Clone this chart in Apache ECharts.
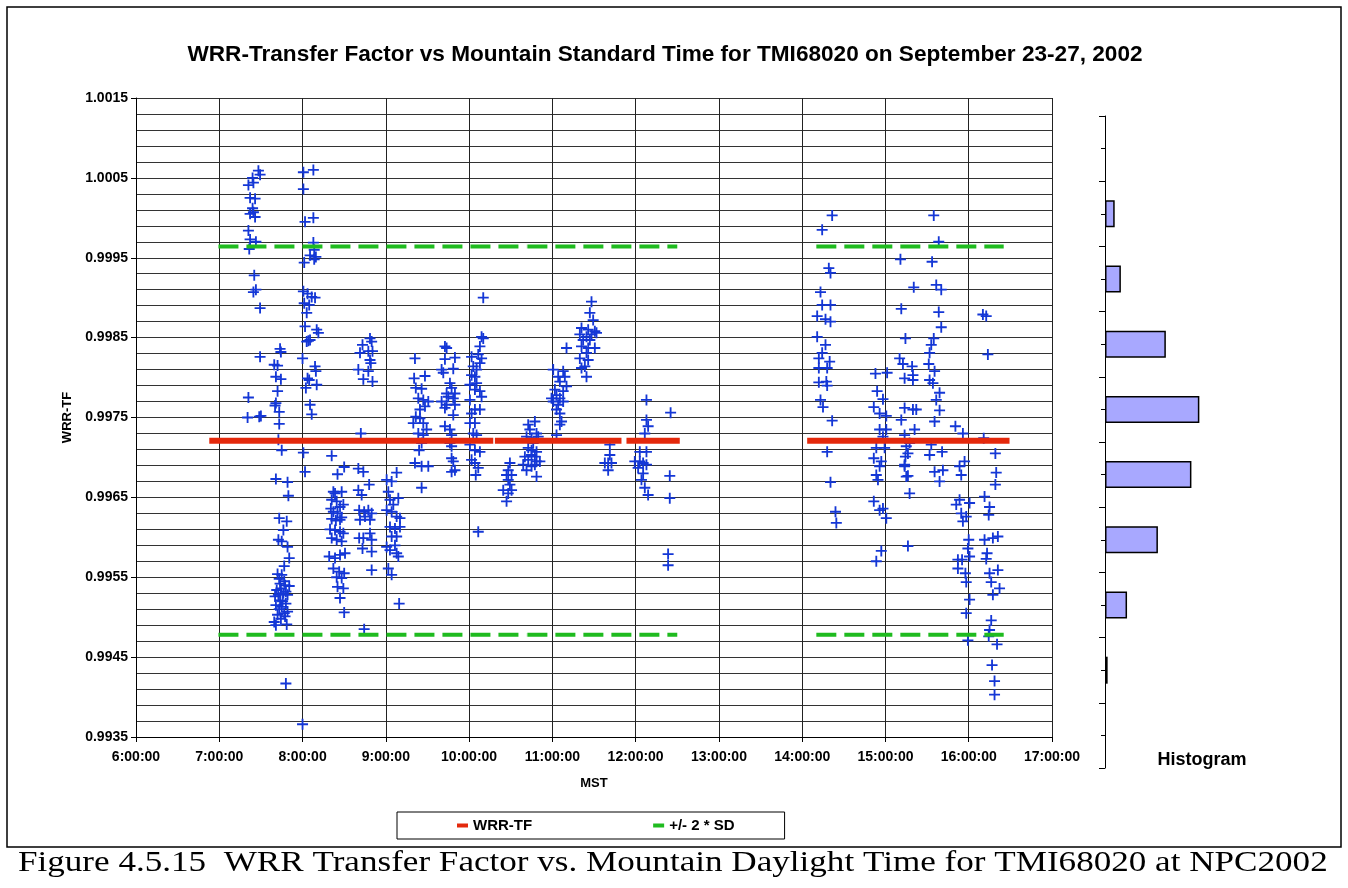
<!DOCTYPE html>
<html>
<head>
<meta charset="utf-8">
<script src="https://cdn.jsdelivr.net/npm/echarts@6/dist/echarts.min.js"></script>
<style>
  html, body { margin: 0; padding: 0; background: #fff; }
  #chart { width: 1348px; height: 888px; }
</style>
</head>
<body>
<div id="chart"></div>
<script>
const morning0720 = [
  [7.47,1.00059],[7.49,1.00054],[7.40,1.00050],[7.41,1.00044],[7.35,1.00041],[7.37,1.00025],[7.43,1.00024],
  [7.40,1.00012],[7.41,1.00007],[7.37,1.00005],[7.43,1.00001],[7.35,0.99984],[7.37,0.99973],[7.44,0.99970],
  [7.36,0.99961],[7.42,0.99928],[7.41,0.99907],[7.44,0.99910],[7.49,0.99887],[7.49,0.99826],[7.35,0.99775],
  [7.34,0.99750],[7.50,0.99752],[7.48,0.99751]
];
const morning0740 = [
  [7.73,0.99836],[7.74,0.99832],[7.66,0.99816],[7.70,0.99815],[7.68,0.99801],[7.74,0.99798],[7.70,0.99783],
  [7.68,0.99768],[7.67,0.99765],[7.72,0.99757],[7.72,0.99742],[7.71,0.99722],[7.75,0.99709],[7.68,0.99673],
  [7.82,0.99669],[7.83,0.99652],[7.72,0.99624],[7.81,0.99620],[7.77,0.99609],[7.71,0.99597],[7.75,0.99595],
  [7.82,0.99588],[7.84,0.99574],[7.78,0.99564],[7.70,0.99554],[7.75,0.99553],[7.73,0.99542],[7.79,0.99540],
  [7.84,0.99539],[7.69,0.99534],[7.77,0.99530],[7.82,0.99528],[7.67,0.99526],[7.73,0.99521],[7.80,0.99517],
  [7.68,0.99515],[7.75,0.99513],[7.82,0.99507],[7.70,0.99503],[7.79,0.99501],[7.66,0.99494],[7.68,0.99490],
  [7.81,0.99491],[7.80,0.99417],[7.72,0.99548],[7.78,0.99545],[7.74,0.99536],[7.80,0.99532],[7.71,0.99528],
  [7.76,0.99520],[7.72,0.99510],[7.78,0.99505],[7.74,0.99498]
];
const morning0800 = [
  [8.01,1.00057],[8.13,1.00060],[8.01,1.00036],[8.03,0.99995],[8.13,1.00000],[8.13,0.99969],[8.14,0.99960],
  [8.09,0.99953],[8.16,0.99951],[8.02,0.99944],[8.14,0.99948],[8.01,0.99908],[8.06,0.99905],[8.11,0.99901],
  [8.15,0.99900],[8.02,0.99893],[8.08,0.99891],[8.05,0.99881],[8.03,0.99864],[8.17,0.99860],[8.19,0.99856],
  [8.07,0.99846],[8.05,0.99845],[8.09,0.99847],[8.00,0.99824],[8.15,0.99814],[8.16,0.99808],[8.06,0.99799],
  [8.08,0.99797],[8.04,0.99787],[8.17,0.99791],[8.09,0.99766],[8.11,0.99754],[8.01,0.99706],[8.03,0.99682],
  [8.00,0.99366]
];
const morning0820 = [
  [8.35,0.99702],[8.42,0.99679],[8.50,0.99688],[8.37,0.99657],[8.39,0.99655],[8.47,0.99657],[8.35,0.99647],
  [8.41,0.99645],[8.49,0.99641],[8.45,0.99638],[8.34,0.99636],[8.37,0.99632],[8.42,0.99630],[8.47,0.99625],
  [8.35,0.99623],[8.40,0.99621],[8.45,0.99622],[8.33,0.99610],[8.39,0.99609],[8.45,0.99607],[8.49,0.99605],
  [8.35,0.99599],[8.41,0.99597],[8.47,0.99595],[8.32,0.99576],[8.39,0.99574],[8.45,0.99578],[8.51,0.99580],
  [8.37,0.99561],[8.44,0.99557],[8.50,0.99555],[8.41,0.99550],[8.47,0.99549],[8.42,0.99538],[8.49,0.99536],
  [8.45,0.99524],[8.50,0.99506],[8.74,0.99485]
];
const morning0840 = [
  [8.72,0.99841],[8.69,0.99831],[8.81,0.99849],[8.83,0.99845],[8.79,0.99833],[8.84,0.99833],[8.81,0.99822],
  [8.82,0.99818],[8.67,0.99810],[8.79,0.99808],[8.73,0.99798],[8.84,0.99795],[8.70,0.99730],
  [8.67,0.99686],[8.73,0.99682],[8.80,0.99666],[8.67,0.99659],[8.71,0.99653],[8.68,0.99634],[8.74,0.99632],
  [8.79,0.99634],[8.83,0.99630],[8.75,0.99626],[8.69,0.99622],[8.81,0.99622],[8.68,0.99599],[8.73,0.99599],
  [8.81,0.99605],[8.83,0.99597],[8.72,0.99586],[8.83,0.99582],[8.83,0.99559]
];
const morning0900 = [
  [9.01,0.99672],[9.07,0.99670],[9.13,0.99681],[9.03,0.99657],[9.05,0.99647],[9.15,0.99649],[9.01,0.99634],
  [9.07,0.99632],[9.09,0.99641],[9.13,0.99626],[9.17,0.99624],[9.05,0.99613],[9.11,0.99611],[9.17,0.99613],
  [9.07,0.99601],[9.13,0.99601],[9.01,0.99588],[9.11,0.99590],[9.05,0.99584],[9.13,0.99580],[9.15,0.99576],
  [9.03,0.99561],[9.07,0.99553],[9.16,0.99517]
];
const morning0920 = [
  [9.35,0.99824],[9.34,0.99799],[9.47,0.99802],[9.36,0.99787],[9.43,0.99786],[9.39,0.99774],[9.45,0.99772],
  [9.51,0.99770],[9.41,0.99760],[9.47,0.99764],[9.36,0.99751],[9.41,0.99749],[9.33,0.99743],[9.45,0.99743],
  [9.49,0.99735],[9.39,0.99730],[9.45,0.99728],[9.43,0.99718],[9.40,0.99709],[9.35,0.99693],[9.43,0.99689],
  [9.51,0.99689],[9.43,0.99662]
];
const morning0940 = [
  [9.71,0.99839],[9.73,0.99837],[9.71,0.99823],[9.83,0.99825],[9.67,0.99810],[9.81,0.99811],[9.69,0.99806],
  [9.77,0.99793],[9.79,0.99787],[9.73,0.99780],[9.83,0.99780],[9.75,0.99776],[9.81,0.99774],[9.67,0.99770],
  [9.73,0.99766],[9.83,0.99766],[9.71,0.99762],[9.81,0.99753],[9.71,0.99739],[9.77,0.99735],[9.79,0.99728],
  [9.77,0.99718],[9.79,0.99714],[9.79,0.99699],[9.81,0.99695],[9.79,0.99682],[9.83,0.99684]
];
const morning1000 = [
  [10.17,0.99900],[10.15,0.99851],[10.17,0.99849],[10.13,0.99839],[10.03,0.99826],[10.11,0.99829],[10.15,0.99824],
  [10.05,0.99814],[10.09,0.99810],[10.13,0.99818],[10.03,0.99803],[10.07,0.99801],[10.01,0.99791],[10.09,0.99793],
  [10.07,0.99785],[10.13,0.99783],[10.15,0.99776],[10.01,0.99772],[10.07,0.99760],[10.13,0.99760],[10.03,0.99755],
  [10.01,0.99743],[10.07,0.99743],[10.05,0.99730],[10.09,0.99728],[10.01,0.99716],[10.07,0.99709],[10.13,0.99707],
  [10.03,0.99697],[10.07,0.99693],[10.11,0.99687],[10.08,0.99678],[10.11,0.99607]
];
const morning1030 = [
  [10.49,0.99693],[10.47,0.99684],[10.45,0.99678],[10.51,0.99678],[10.47,0.99672],[10.49,0.99666],[10.41,0.99659],
  [10.51,0.99659],[10.47,0.99655],[10.45,0.99645],
  [10.71,0.99741],[10.79,0.99745],[10.73,0.99735],[10.81,0.99730],[10.69,0.99726],[10.75,0.99724],[10.83,0.99726],
  [10.77,0.99718],[10.71,0.99712],[10.75,0.99709],[10.81,0.99707],[10.67,0.99701],[10.75,0.99703],[10.79,0.99701],
  [10.71,0.99697],[10.81,0.99695],[10.65,0.99691],[10.75,0.99689],[10.69,0.99684],[10.79,0.99691],[10.85,0.99695],
  [10.81,0.99676]
];
const midday1100 = [
  [11.01,0.99810],[11.13,0.99808],[11.07,0.99801],[11.15,0.99801],[11.09,0.99795],[11.17,0.99789],[11.03,0.99785],
  [11.13,0.99783],[11.05,0.99778],[10.99,0.99774],[11.09,0.99774],[11.01,0.99770],[11.07,0.99766],[11.13,0.99770],
  [11.05,0.99760],[11.09,0.99755],[11.11,0.99745],[11.09,0.99741],[11.05,0.99728],[11.17,0.99837],
  [11.47,0.99895],[11.45,0.99881],[11.49,0.99872],[11.35,0.99862],[11.43,0.99860],[11.51,0.99858],[11.33,0.99854],
  [11.41,0.99851],[11.47,0.99854],[11.37,0.99847],[11.45,0.99847],[11.53,0.99856],[11.35,0.99839],[11.43,0.99837],
  [11.51,0.99837],[11.41,0.99831],[11.33,0.99824],[11.43,0.99822],[11.35,0.99812],[11.39,0.99814],[11.41,0.99801]
];
const midday1140 = [
  [11.69,0.99716],[11.69,0.99703],[11.67,0.99693],[11.63,0.99693],[11.71,0.99693],[11.67,0.99684],
  [12.13,0.99772],[12.13,0.99747],[12.15,0.99739],[12.11,0.99730],[12.05,0.99707],[12.13,0.99707],[11.99,0.99695],
  [12.05,0.99695],[12.13,0.99691],[12.03,0.99687],[12.09,0.99680],[12.07,0.99672],[12.11,0.99662],[12.15,0.99653],
  [12.09,0.99693],
  [12.42,0.99756],[12.41,0.99677],[12.41,0.99649],[12.39,0.99579],[12.39,0.99565]
];
const afternoon1410 = [
  [14.36,1.00003],[14.24,0.99985],[14.32,0.99937],[14.34,0.99931],[14.22,0.99907],[14.24,0.99891],[14.34,0.99891],
  [14.18,0.99877],[14.28,0.99873],[14.34,0.99870],[14.18,0.99851],[14.28,0.99841],[14.24,0.99831],[14.20,0.99824],
  [14.33,0.99820],[14.20,0.99812],[14.30,0.99812],[14.20,0.99794],[14.29,0.99795],[14.30,0.99790],[14.22,0.99772],
  [14.25,0.99763],[14.36,0.99746],[14.30,0.99707],[14.34,0.99669],[14.40,0.99632],[14.41,0.99618]
];
const afternoon1450 = [
  [14.88,0.99805],[15.02,0.99806],[14.90,0.99783],[14.97,0.99773],[14.86,0.99763],[14.93,0.99755],[15.01,0.99752],
  [14.93,0.99735],[15.01,0.99735],[14.97,0.99726],[14.89,0.99712],[14.99,0.99712],[14.86,0.99699],[14.95,0.99695],
  [14.93,0.99689],[14.89,0.99678],[14.91,0.99672],[14.86,0.99645],[14.93,0.99634],[14.97,0.99636],[15.01,0.99624],
  [14.95,0.99583],[14.89,0.99570]
];
const afternoon1515 = [
  [15.18,0.99948],[15.34,0.99913],[15.19,0.99886],[15.24,0.99849],[15.17,0.99824],[15.21,0.99817],[15.32,0.99814],
  [15.33,0.99803],[15.23,0.99799],[15.33,0.99797],[15.23,0.99762],[15.33,0.99760],[15.37,0.99760],[15.19,0.99747],
  [15.35,0.99735],[15.23,0.99728],[15.29,0.99718],[15.25,0.99714],[15.27,0.99705],[15.24,0.99701],[15.23,0.99689],
  [15.27,0.99677],[15.23,0.99691],[15.25,0.99676],[15.29,0.99655],[15.27,0.99589]
];
const afternoon1535 = [
  [15.58,1.00003],[15.64,0.99970],[15.56,0.99945],[15.61,0.99916],[15.67,0.99910],[15.64,0.99882],[15.67,0.99863],
  [15.58,0.99849],[15.55,0.99841],[15.53,0.99831],[15.52,0.99817],[15.59,0.99808],[15.53,0.99797],[15.57,0.99793],
  [15.65,0.99781],[15.61,0.99772],[15.65,0.99759],[15.59,0.99745],[15.55,0.99716],[15.68,0.99707],[15.53,0.99703],
  [15.59,0.99682],[15.69,0.99684],[15.65,0.99670]
];
const afternoon1555 = [
  [15.84,0.99739],[15.93,0.99730],[15.95,0.99695],[15.89,0.99689],[15.91,0.99678],[15.89,0.99647],[15.85,0.99641],
  [16.01,0.99643],[15.91,0.99630],[15.97,0.99626],[15.93,0.99620],[16.00,0.99597],[15.99,0.99586],[15.87,0.99572],
  [15.92,0.99572],[16.01,0.99576],[15.87,0.99561],[15.96,0.99555],[15.97,0.99544],[16.01,0.99522],[15.97,0.99505],
  [15.99,0.99471]
];
const afternoon1615 = [
  [16.17,0.99879],[16.21,0.99877],[16.23,0.99829],[16.18,0.99724],[16.32,0.99705],[16.33,0.99681],[16.32,0.99666],
  [16.19,0.99651],[16.25,0.99638],[16.24,0.99628],[16.19,0.99597],[16.29,0.99599],[16.35,0.99601],[16.22,0.99580],
  [16.21,0.99573],[16.25,0.99555],[16.35,0.99559],[16.27,0.99544],[16.37,0.99536],[16.29,0.99528],[16.27,0.99496],
  [16.25,0.99484],[16.24,0.99476],[16.34,0.99466],[16.28,0.99440],[16.31,0.99420],[16.31,0.99403]
];

// mean and +/- 2 SD lines, drawn over the measurement periods
const tfMean = 0.99721;
const sdUpper = 0.99964;
const sdLower = 0.99478;
const meanSpans = [[6.88, 10.29], [10.31, 11.83], [11.89, 12.53], [14.06, 16.49]];
const sdSpans = [[6.99, 10.69], [10.70, 12.50], [14.17, 16.42]];

// histogram of the transfer factor, top bin first ('-' = empty bin)
const histBins = ['1.0005', '0.9999', '0.9993', '0.9987', '0.9981', '0.9975', '0.9969', '0.9963', '0.9957', '0.9951'];
const histCounts = ['-', 11, 18, 69, 107, 98, 60, 25, 3, '-'];

const xTicks = [6, 7, 8, 9, 10, 11, 12, 13, 14, 15, 16, 17];

// y axis works in units of 0.0001 above 0.9935 so ticks land on the grid lines
const Y0 = 0.9935;
const toY = (v) => (v - Y0) * 10000;
const toPoint = (p) => [p[0], toY(p[1])];

const allPoints = [].concat(
  morning0720, morning0740, morning0800, morning0820, morning0840, morning0900,
  morning0920, morning0940, morning1000, morning1030, midday1100, midday1140,
  afternoon1410, afternoon1450, afternoon1515, afternoon1535, afternoon1555, afternoon1615
).map(toPoint);

const font = 'Liberation Sans, Arial, sans-serif';
const plus = 'path://M5,0H7V5H12V7H7V12H5V7H0V5H5Z';
const boldText = (size) => ({ fontFamily: font, fontWeight: 'bold', fontSize: size, color: '#000' });

const chart = echarts.init(document.getElementById('chart'));

const lineSeries = [];
meanSpans.forEach((s) => {
  lineSeries.push({
    name: 'WRR-TF', type: 'line', xAxisIndex: 0, yAxisIndex: 0,
    data: [[s[0], toY(tfMean)], [s[1], toY(tfMean)]],
    symbol: 'none', z: 5,
    lineStyle: { color: '#e4290c', width: 6 },
    itemStyle: { color: '#e4290c' },
  });
});
sdSpans.forEach((s) => {
  [sdUpper, sdLower].forEach((v) => {
    lineSeries.push({
      name: '+/- 2 * SD', type: 'line', xAxisIndex: 0, yAxisIndex: 0,
      data: [[s[0], toY(v)], [s[1], toY(v)]],
      symbol: 'none', z: 5,
      lineStyle: { color: '#1fbb1f', width: 4, type: [20, 8] },
      itemStyle: { color: '#1fbb1f' },
    });
  });
});

chart.setOption({
  animation: false,
  backgroundColor: '#fff',
  title: {
    text: 'WRR-Transfer Factor vs Mountain Standard Time for TMI68020 on September 23-27, 2002',
    left: 660, top: 38, textAlign: 'center',
    textStyle: boldText(22.6),
  },
  legend: {
    data: [
      { name: 'WRR-TF', icon: 'rect', itemStyle: { color: '#e4290c' } },
      { name: '+/- 2 * SD', icon: 'rect', itemStyle: { color: '#1fbb1f' } },
    ],
    left: 397, top: 812,
    padding: [6, 50, 6, 60],
    itemGap: 121, itemWidth: 11, itemHeight: 4,
    borderColor: '#000', borderWidth: 1,
    textStyle: boldText(15),
  },
  grid: [
    { left: 136, top: 98, width: 916, height: 639 },
    { left: 1105, top: 116, width: 194, height: 652 },
  ],
  xAxis: [
    {
      type: 'value', gridIndex: 0, min: xTicks[0], max: xTicks[xTicks.length - 1], interval: 1,
      name: 'MST', nameLocation: 'middle', nameGap: 40,
      nameTextStyle: boldText(13),
      axisLine: { lineStyle: { color: '#000', width: 1 } },
      axisTick: { length: 5, lineStyle: { color: '#000' } },
      axisLabel: Object.assign({ formatter: (h) => h + ':00:00', margin: 13 }, boldText(14)),
      splitLine: { show: true, lineStyle: { color: '#222', width: 1 } },
    },
    {
      type: 'value', gridIndex: 1, min: 0, max: 220,
      name: 'Histogram', nameLocation: 'middle', nameGap: -17,
      nameTextStyle: boldText(18),
      axisLine: { show: false }, axisTick: { show: false },
      axisLabel: { show: false }, splitLine: { show: false },
    },
  ],
  yAxis: [
    {
      type: 'value', gridIndex: 0, min: 0, max: 80, interval: 10,
      name: 'WRR-TF', nameLocation: 'middle', nameGap: 61,
      nameTextStyle: boldText(13),
      axisLine: { show: true, lineStyle: { color: '#000', width: 1 } },
      axisTick: { show: true, length: 5, lineStyle: { color: '#000' } },
      axisLabel: Object.assign({ formatter: (v) => (Y0 + v / 10000).toFixed(4), margin: 8 }, boldText(14)),
      splitLine: { show: true, lineStyle: { color: '#333', width: 1 } },
      minorTick: { show: false, splitNumber: 5 },
      minorSplitLine: { show: true, lineStyle: { color: '#333', width: 1 } },
    },
    {
      type: 'category', gridIndex: 1, position: 'left', inverse: true, data: histBins,
      axisLine: { show: true, lineStyle: { color: '#000', width: 1 } },
      axisTick: { show: true, length: 6, lineStyle: { color: '#000' } },
      axisLabel: { show: false }, splitLine: { show: false },
    },
    {
      type: 'category', gridIndex: 1, position: 'left', offset: 0, inverse: true, data: histBins,
      axisLine: { show: false },
      axisTick: { show: true, alignWithLabel: true, length: 4, lineStyle: { color: '#000' } },
      axisLabel: { show: false }, splitLine: { show: false },
    },
  ],
  series: [
    {
      name: 'WRR-TF data', type: 'scatter', xAxisIndex: 0, yAxisIndex: 0,
      data: allPoints, symbol: plus, symbolSize: 11, z: 3,
      itemStyle: { color: '#1437d6', opacity: 1 },
    },
    ...lineSeries,
    {
      name: 'Histogram', type: 'bar', xAxisIndex: 1, yAxisIndex: 1,
      data: histCounts, barWidth: 27,
      itemStyle: { color: '#a8a8ff', borderColor: '#000', borderWidth: 1.5 },
    },
  ],
  graphic: [
    {
      type: 'rect', z: -1,
      shape: { x: 7, y: 7, width: 1334, height: 840 },
      style: { fill: 'none', stroke: '#000', lineWidth: 1.5 },
    },
    {
      type: 'text', x: 18, y: 863, scaleX: 1.17,
      style: {
        text: 'Figure 4.5.15  WRR Transfer Factor vs. Mountain Daylight Time for TMI68020 at NPC2002',
        font: '30px "Liberation Serif", "Times New Roman", serif', fill: '#000',
        verticalAlign: 'middle',
      },
    },
  ],
});
</script>
</body>
</html>
